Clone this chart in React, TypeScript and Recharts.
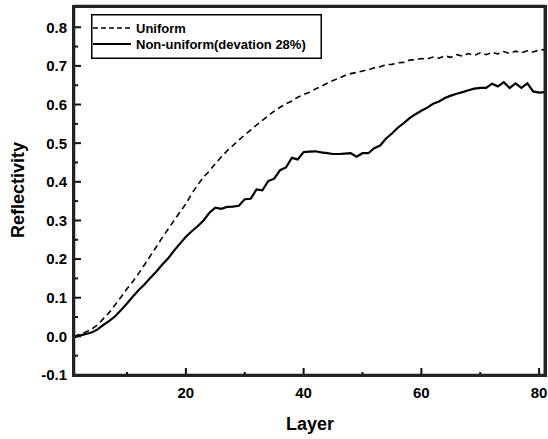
import { LineChart, Line, XAxis, YAxis, Legend, ReferenceLine } from 'recharts'

const layers = [
  1, 2, 3, 4, 5, 6, 7, 8, 9, 10, 11, 12, 13, 14, 15, 16, 17, 18, 19, 20,
  21, 22, 23, 24, 25, 26, 27, 28, 29, 30, 31, 32, 33, 34, 35, 36, 37, 38, 39, 40,
  41, 42, 43, 44, 45, 46, 47, 48, 49, 50, 51, 52, 53, 54, 55, 56, 57, 58, 59, 60,
  61, 62, 63, 64, 65, 66, 67, 68, 69, 70, 71, 72, 73, 74, 75, 76, 77, 78, 79, 80, 81,
]

const uniform = [
  0.0, 0.005, 0.011, 0.019, 0.03, 0.046, 0.062, 0.082, 0.102, 0.123,
  0.142, 0.163, 0.186, 0.209, 0.232, 0.256, 0.278, 0.3, 0.322, 0.343,
  0.369, 0.392, 0.412, 0.428, 0.447, 0.464, 0.48, 0.494, 0.508, 0.521,
  0.534, 0.547, 0.559, 0.571, 0.583, 0.593, 0.602, 0.609, 0.619, 0.626,
  0.632, 0.64, 0.647, 0.655, 0.662, 0.668, 0.675, 0.68, 0.683, 0.687,
  0.69, 0.695, 0.698, 0.703, 0.704, 0.708, 0.709, 0.715, 0.716, 0.719,
  0.718, 0.723, 0.72, 0.726, 0.722, 0.729, 0.725, 0.732, 0.727, 0.734,
  0.729, 0.735, 0.731, 0.737, 0.732, 0.738, 0.734, 0.739, 0.736, 0.741, 0.742,
]

const nonUniform = [
  -0.002, 0.002, 0.006, 0.01, 0.018, 0.03, 0.04, 0.052, 0.068, 0.085,
  0.103, 0.12, 0.135, 0.152, 0.168, 0.186, 0.202, 0.222, 0.24, 0.258,
  0.272, 0.285, 0.3, 0.32, 0.333, 0.33, 0.335, 0.336, 0.338, 0.355,
  0.356, 0.38, 0.378, 0.402, 0.408, 0.43, 0.437, 0.462, 0.458, 0.477,
  0.478, 0.479, 0.476, 0.474, 0.472, 0.472, 0.473, 0.474, 0.465, 0.474,
  0.474, 0.487, 0.494, 0.512, 0.525, 0.54, 0.552, 0.565, 0.575, 0.584,
  0.592, 0.602, 0.608, 0.617, 0.623, 0.628, 0.632, 0.637, 0.641, 0.643,
  0.643, 0.654, 0.647, 0.658, 0.643, 0.655, 0.643, 0.655, 0.634, 0.631, 0.632,
]

const xTicks = [10, 20, 30, 40, 50, 60, 70, 80]
const yTicks = [
  -0.1, -0.05, 0, 0.05, 0.1, 0.15, 0.2, 0.25, 0.3, 0.35,
  0.4, 0.45, 0.5, 0.55, 0.6, 0.65, 0.7, 0.75, 0.8,
]

const data = layers.map((layer, i) => ({
  layer,
  uniform: uniform[i],
  nonUniform: nonUniform[i],
}))

const FONT = 'Liberation Sans, Arial, sans-serif'
const INK = '#111'

const isMajorY = (v: number) => Math.abs(v * 10 - Math.round(v * 10)) < 1e-6
const isMajorX = (v: number) => v % 20 === 0

function LeftTick({ x, y, payload }: any) {
  const major = isMajorY(payload.value)
  return (
    <g>
      <rect x={x} y={y - 1} width={major ? 7 : 4} height={2} fill={INK} />
      {major && (
        <text x={x - 7} y={y} dy="0.36em" textAnchor="end" fontFamily={FONT} fontWeight="bold" fontSize={15} fill="#000">
          {payload.value.toFixed(1)}
        </text>
      )}
    </g>
  )
}

function RightTick({ x, y, payload }: any) {
  const len = isMajorY(payload.value) ? 7 : 4
  return <rect x={x - len} y={y - 1} width={len} height={2} fill={INK} />
}

function BottomTick({ x, y, payload }: any) {
  const major = isMajorX(payload.value)
  const len = major ? 7 : 3
  return (
    <g>
      <rect x={x - 1} y={y - len} width={2} height={len} fill={INK} />
      {major && (
        <text x={x} y={y + 23} textAnchor="middle" fontFamily={FONT} fontWeight="bold" fontSize={15} fill="#000">
          {payload.value}
        </text>
      )}
    </g>
  )
}

function LegendBox() {
  return (
    <svg width={231} height={45} style={{ display: 'block' }}>
      <rect x={0.75} y={0.75} width={229.5} height={43.5} fill="#fff" stroke="#000" strokeWidth={1.5} />
      <line x1={2} x2={40} y1={14} y2={14} stroke="#000" strokeWidth={1.5} strokeDasharray="5 3" />
      <text x={45} y={18.5} fontFamily={FONT} fontWeight="bold" fontSize={13} fill="#000">Uniform</text>
      <line x1={2} x2={40} y1={30} y2={30} stroke="#000" strokeWidth={1.8} />
      <text x={45} y={34.5} fontFamily={FONT} fontWeight="bold" fontSize={13} fill="#000">Non-uniform(devation 28%)</text>
    </svg>
  )
}

export default function App() {
  return (
    <div style={{ position: 'absolute', left: 0, top: 0, width: 548, height: 439, background: '#fff' }}>
      <LineChart width={548} height={439} data={data} margin={{ top: 6, right: 2, left: 0, bottom: 0 }}>
        <XAxis
          dataKey="layer"
          type="number"
          domain={[1, 81]}
          ticks={xTicks}
          interval={0}
          height={64}
          tickSize={0}
          tickMargin={0}
          tickLine={false}
          tick={<BottomTick />}
          axisLine={{ stroke: INK, strokeWidth: 2.5 }}
        />
        <YAxis
          type="number"
          domain={[-0.1, 0.855]}
          ticks={yTicks}
          interval={0}
          width={74}
          tickSize={0}
          tickMargin={0}
          tickLine={false}
          tick={<LeftTick />}
          axisLine={{ stroke: INK, strokeWidth: 2.5 }}
        />
        <YAxis
          yAxisId="right"
          orientation="right"
          type="number"
          domain={[-0.1, 0.855]}
          ticks={yTicks}
          interval={0}
          width={1}
          tickSize={0}
          tickMargin={0}
          tickLine={false}
          tick={<RightTick />}
          axisLine={{ stroke: INK, strokeWidth: 2.5 }}
        />
        <ReferenceLine y={0.855} stroke={INK} strokeWidth={2.5} ifOverflow="extendDomain" />
        <ReferenceLine x={81} stroke={INK} strokeWidth={2.5} />
        <Legend
          layout="horizontal"
          verticalAlign="middle"
          align="center"
          content={<LegendBox />}
          wrapperStyle={{ position: 'absolute', left: 91, top: 14, width: 231, height: 45 }}
        />
        <Line
          dataKey="uniform"
          type="linear"
          stroke="#000"
          strokeWidth={1.6}
          strokeDasharray="6 4"
          dot={false}
          activeDot={false}
          isAnimationActive={false}
        />
        <Line
          dataKey="nonUniform"
          type="linear"
          stroke="#000"
          strokeWidth={2.2}
          dot={false}
          activeDot={false}
          isAnimationActive={false}
        />
      </LineChart>
      <div style={{ position: 'absolute', left: 72, top: 5, width: 475, height: 372, border: '3px solid #222', boxSizing: 'border-box', pointerEvents: 'none', zIndex: 5 }} />
      <div style={{ position: 'absolute', left: 0, top: 0, width: 548, height: 439, pointerEvents: 'none', zIndex: 6, fontFamily: FONT, fontWeight: 'bold', fontSize: 18, color: '#000' }}>
        <div style={{ position: 'absolute', left: 286, top: 414 }}>Layer</div>
        <div style={{ position: 'absolute', left: 18, top: 190, transform: 'translate(-50%, -50%) rotate(-90deg)', whiteSpace: 'nowrap' }}>Reflectivity</div>
      </div>
    </div>
  )
}
